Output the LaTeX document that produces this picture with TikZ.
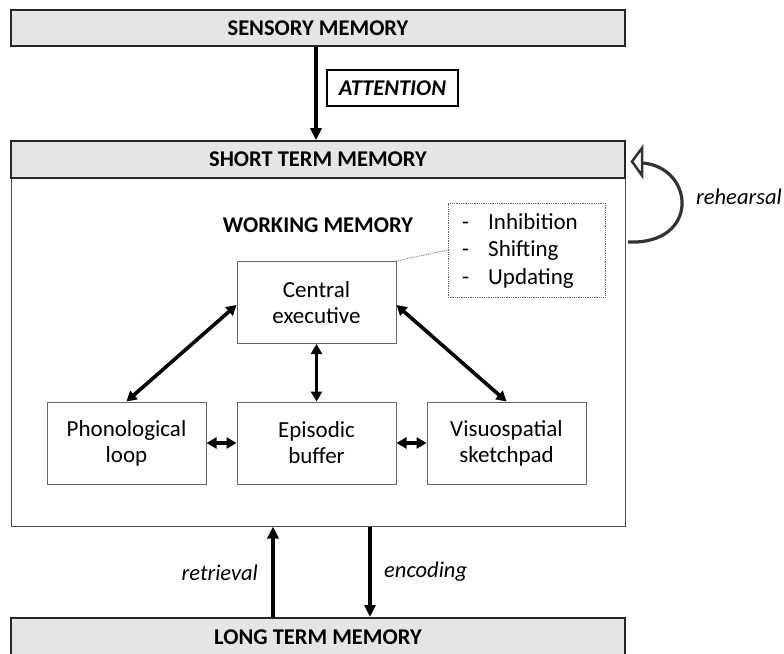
\documentclass[tikz,border=0pt]{standalone}
\usepackage{fontspec}
\setmainfont{Carlito}
\usetikzlibrary{arrows.meta}
\begin{document}
\begin{tikzpicture}[x=1pt,y=-1pt,
  bigbar/.style={draw=black!85,line width=1.6pt,fill=black!10,minimum width=614pt,inner sep=0pt,font=\fontsize{22.5}{26}\selectfont\bfseries},
  wmbox/.style={draw=black!60,line width=1pt,fill=white,minimum width=159pt,minimum height=82pt,inner sep=0pt,align=center,font=\fontsize{23}{26}\selectfont},
  arr/.style={line width=3.5pt,-{Triangle[length=12pt,width=11pt]}},
  darr/.style={line width=3.6pt,{Triangle[length=10pt,width=11pt]}-{Triangle[length=10pt,width=11pt]}},
  lbl/.style={font=\fontsize{22.5}{26}\selectfont\itshape,inner sep=0pt}
]
\useasboundingbox (0,0) rectangle (784,653);
% sensory memory
\node[bigbar,minimum height=36pt] (sens) at (318,28) {SENSORY MEMORY};
% short term memory body and header
\node[draw=black!70,line width=1pt,fill=white,minimum width=614pt,minimum height=348pt,inner sep=0pt] (stm) at (318,352) {};
\node[bigbar,minimum height=37pt] (stmh) at (318,159.5) {SHORT TERM MEMORY};
% long term memory
\node[bigbar,minimum height=46pt,anchor=north] (ltm) at (318,617) {};
\node[font=\fontsize{22.5}{26}\selectfont\bfseries] (ltmt) at (318,637) {LONG TERM MEMORY};
% attention
\draw[arr] (sens.south -| 316,0) -- (stmh.north -| 316,0);
\node[draw=black,line width=2.6pt,minimum width=131pt,minimum height=36pt,inner sep=0pt,font=\fontsize{22.5}{26}\selectfont\bfseries\itshape] (att) at (392.5,88) {ATTENTION};
% rehearsal
\coordinate (rs) at (628,242);
\coordinate (rb) at (643,163);
\coordinate (rtip) at (632,161.5);
\coordinate (rtop) at (642,148);
\coordinate (rbot) at (642,175.5);
\draw[line width=3.2pt,draw=black!80] (rs) .. controls (700,245) and (695,168) .. (rb);
\draw[line width=2.5pt,draw=black!80,fill=white,line join=miter] (rtip) -- (rtop) -- (rbot) -- cycle;
\node[lbl,anchor=west] (reh) at (696,197) {rehearsal};
% working memory
\node[font=\fontsize{22.5}{26}\selectfont\bfseries] (wm) at (318,225) {WORKING MEMORY};
\node[draw=black!60,densely dotted,line width=0.8pt,minimum width=157pt,minimum height=94pt,inner sep=0pt] (fn) at (526.5,250) {};
\node[inner sep=0pt,anchor=north west,font=\fontsize{23}{27.5}\selectfont] (fl) at (462,210)
  {\begin{tabular}{@{}p{26pt}@{}l@{}}-&Inhibition\\-&Shifting\\-&Updating\end{tabular}};
% components
\node[wmbox] (ce) at (316.5,302.5) {Central\\executive};
\node[wmbox] (pl) at (126.5,443) {Phonological\\loop};
\node[wmbox] (eb) at (316.5,443) {Episodic\\buffer};
\node[wmbox] (vs) at (506.5,443) {Visuospatial\\sketchpad};
\draw[black!60,densely dotted,line width=0.8pt] (ce.north east) -- (fn.west);
\draw[darr] (ce.west |- 0,305) -- (pl.north);
\draw[darr] (ce.east |- 0,305) -- (vs.north);
\draw[darr] (ce.south) -- (eb.north);
\draw[darr] (pl.east) -- (eb.west);
\draw[darr] (eb.east) -- (vs.west);
% retrieval / encoding
\draw[arr] (ltm.north -| 273,0) -- (stm.south -| 273,0);
\draw[arr] (stm.south -| 370,0) -- (ltm.north -| 370,0);
\node[lbl,anchor=east] (ret) at (258,573) {retrieval};
\node[lbl,anchor=west] (enc) at (384,572) {encoding};
\end{tikzpicture}
\end{document}
